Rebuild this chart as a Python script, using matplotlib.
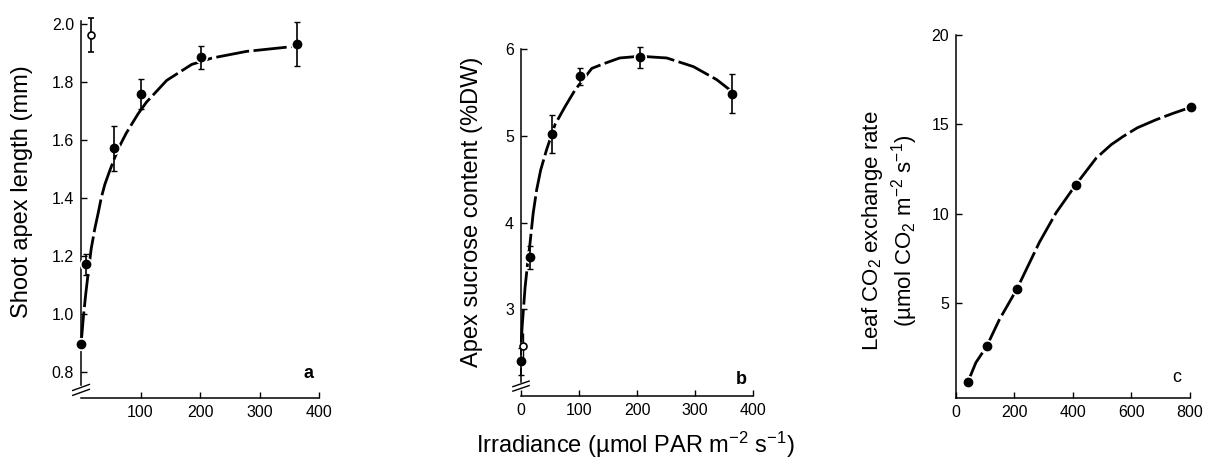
import matplotlib
matplotlib.use("Agg")
import matplotlib.pyplot as plt

plt.rcParams['font.family'] = ['Liberation Sans', 'DejaVu Sans']
plt.rcParams['mathtext.fontset'] = 'custom'
plt.rcParams['mathtext.rm'] = 'Liberation Sans'
plt.rcParams['mathtext.it'] = 'Liberation Sans'

# panel a - shoot apex length
irr_a = [0, 8, 56, 100, 202, 363]
len_a = [0.895, 1.17, 1.57, 1.758, 1.885, 1.93]
err_a = [0.0, 0.037, 0.076, 0.053, 0.04, 0.077]
open_irr_a = [17]
open_len_a = [1.962]
open_err_a = [0.059]
fit_x_a = [0, 4, 8, 12, 17, 23, 29, 34, 40, 48, 56, 65, 76, 96, 110, 144, 186, 220, 278, 357, 363]
fit_y_a = [0.893, 0.99, 1.07, 1.14, 1.223, 1.292, 1.349, 1.40, 1.446, 1.492, 1.535, 1.579, 1.623,
           1.69, 1.73, 1.805, 1.86, 1.882, 1.905, 1.922, 1.925]

# panel b - apex sucrose
irr_b = [0, 15, 53, 101, 205, 364]
suc_b = [2.40, 3.6, 5.02, 5.69, 5.91, 5.49]
err_b = [0.155, 0.13, 0.22, 0.1, 0.12, 0.23]
open_irr_b = [4]
open_suc_b = [2.58]
open_err_b = [0.15]
fit_x_b = [0.5, 2, 7, 12, 15.5, 21, 27, 34, 44, 58.5, 76, 93, 122, 145, 170, 205, 251, 297, 337, 360]
fit_y_b = [2.62, 2.8, 3.25, 3.57, 3.76, 4.11, 4.38, 4.61, 4.84, 5.13, 5.34, 5.53, 5.78, 5.84,
           5.9, 5.92, 5.9, 5.8, 5.65, 5.53]

# panel c - leaf CO2 exchange
irr_c = [40, 105, 208, 410, 805]
rate_c = [0.58, 2.6, 5.79, 11.63, 15.96]
fit_x_c = [40, 68, 105, 148, 208, 285, 342, 410, 479, 530, 570, 620, 684, 741, 805]
fit_y_c = [0.58, 1.69, 2.6, 4.08, 5.79, 8.4, 10.05, 11.63, 13.1, 13.85, 14.3, 14.8, 15.25, 15.6, 15.96]

fig = plt.figure(figsize=(12.06, 4.66), dpi=100)
ax_a = fig.add_axes([0.0672, 0.1459, 0.1973, 0.8097])
ax_b = fig.add_axes([0.4320, 0.1502, 0.1926, 0.7440])
ax_c = fig.add_axes([0.7927, 0.1466, 0.1940, 0.7790])

DASH = (0, (12, 1.6))


def style(ax):
    for s in ['top', 'right']:
        ax.spines[s].set_visible(False)
    for s in ['left', 'bottom']:
        ax.spines[s].set_linewidth(1.1)
    ax.tick_params(direction='in', length=4, width=1.0, labelsize=11.5, pad=5)


def draw(ax, fx, fy, x, y, err=None):
    ax.plot(fx, fy, color='k', lw=2.0, ls=DASH, zorder=2, clip_on=False,
            dash_joinstyle='round', solid_joinstyle='round')
    ax.plot(x, y, 'o', color='white', ms=9.5, mew=0, zorder=3, clip_on=False)
    if err is not None:
        ax.errorbar(x, y, yerr=err, fmt='none', ecolor='k', elinewidth=1.2,
                    capsize=2, capthick=1.0, zorder=4, clip_on=False)
    ax.plot(x, y, 'o', color='k', ms=6, zorder=5, clip_on=False)


def brk(ax, yb):
    for d in (0.0, 0.013):
        ax.plot([-0.035, 0.035], [yb - 0.012 + d, yb + 0.004 + d], color='k', lw=1.0,
                transform=ax.transAxes, clip_on=False)


# panel a
style(ax_a)
draw(ax_a, fit_x_a, fit_y_a, irr_a, len_a, err_a)
ax_a.errorbar(open_irr_a, open_len_a, yerr=open_err_a, fmt='o', mfc='white', mec='k',
              mew=1.2, ms=5, ecolor='k', elinewidth=1.2, capsize=2, zorder=5, clip_on=False)
ax_a.set_xlim(0, 400)
ax_a.set_ylim(0.709, 2.011)
ax_a.set_xticks([100, 200, 300, 400])
ax_a.set_yticks([0.8, 1.0, 1.2, 1.4, 1.6, 1.8, 2.0])
ax_a.set_yticklabels(['0.8', '1.0', '1.2', '1.4', '1.6', '1.8', '2.0'])
ax_a.spines['left'].set_bounds(0.754, 2.011)
brk(ax_a, 0.019)
ax_a.text(0.954, 0.066, 'a', transform=ax_a.transAxes, fontsize=13, fontweight='bold',
          ha='center', va='center')

# panel b
style(ax_b)
draw(ax_b, fit_x_b, fit_y_b, irr_b, suc_b, err_b)
ax_b.errorbar(open_irr_b, open_suc_b, yerr=open_err_b, fmt='o', mfc='white', mec='k',
              mew=1.2, ms=5, ecolor='k', elinewidth=1.0, capsize=0, zorder=5, clip_on=False)
ax_b.set_xlim(0, 400)
ax_b.set_ylim(2.0, 6.0)
ax_b.set_xticks([0, 100, 200, 300, 400])
ax_b.set_yticks([3, 4, 5, 6])
ax_b.spines['left'].set_bounds(2.16, 6.0)
brk(ax_b, 0.026)
ax_b.text(0.95, 0.049, 'b', transform=ax_b.transAxes, fontsize=13, fontweight='bold',
          ha='center', va='center')

# panel c
style(ax_c)
draw(ax_c, fit_x_c, fit_y_c, irr_c, rate_c)
ax_c.set_xlim(0, 800)
ax_c.set_ylim(-0.27, 20)
ax_c.set_xticks([0, 200, 400, 600, 800])
ax_c.set_yticks([5, 10, 15, 20])
ax_c.text(0.943, 0.055, 'c', transform=ax_c.transAxes, fontsize=13,
          ha='center', va='center')

# axis titles
fig.text(21.7 / 1206, 1 - 192 / 466, 'Shoot apex length (mm)', rotation=90,
         ha='center', va='center', fontsize=17)
fig.text(471.7 / 1206, 1 - 211.5 / 466, 'Apex sucrose content (%DW)', rotation=90,
         ha='center', va='center', fontsize=17)
fig.text(890 / 1206, 1 - 231 / 466,
         'Leaf CO$_2$ exchange rate\n(µmol CO$_2$ m$^{-2}$ s$^{-1}$)',
         rotation=90, ha='center', va='center', fontsize=16, linespacing=1.15,
         multialignment='center')
fig.text(635 / 1206, 1 - 445 / 466, 'Irradiance (µmol PAR m$^{-2}$ s$^{-1}$)',
         ha='center', va='center', fontsize=17)

fig.savefig('out.png', dpi=100)
